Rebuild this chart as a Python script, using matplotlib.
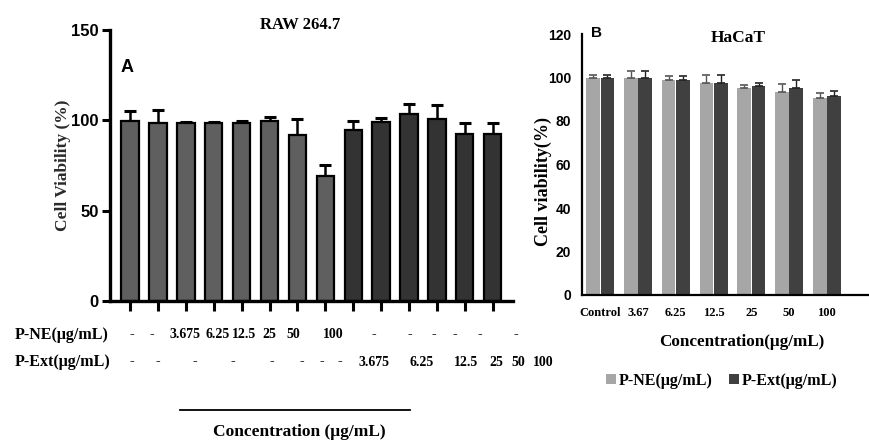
import numpy as np
import matplotlib
matplotlib.use('Agg')
import matplotlib.pyplot as plt
from matplotlib.lines import Line2D

# Panel A: RAW 264.7
raw_mean = [99.5, 98.3, 98.5, 98.5, 98.8, 99.4, 92.0, 69.0, 94.6, 98.9, 103.5, 100.7, 92.5, 92.5]
raw_err = [5.5, 7.5, 0.8, 0.8, 1.0, 2.6, 8.5, 6.3, 5.2, 2.5, 5.5, 8.0, 6.3, 6.3]
raw_group = ['ne'] * 8 + ['ext'] * 6
pne_labels = ['-', '-', '3.675', '6.25', '12.5', '25', '50', '100', '-', '-', '-', '-', '-', '-']
pext_labels = ['-', '-', '-', '-', '-', '-', '-', '-', '3.675', '6.25', '12.5', '25', '50', '100']

# Panel B: HaCaT
hacat_cats = ['Control', '3.67', '6.25', '12.5', '25', '50', '100']
hacat_ne = [100.0, 100.0, 99.0, 97.3, 95.3, 93.2, 90.7]
hacat_ne_err = [1.3, 3.0, 1.5, 3.8, 1.3, 3.8, 2.4]
hacat_ext = [100.0, 100.0, 99.0, 97.3, 96.1, 95.3, 91.6]
hacat_ext_err = [1.2, 3.0, 1.5, 3.8, 1.3, 3.6, 2.3]

W, H = 870, 441
SERIF = ['Liberation Serif', 'DejaVu Serif']
NARROW = ['Liberation Sans Narrow', 'Liberation Sans', 'DejaVu Sans']
SANS = ['Liberation Sans', 'DejaVu Sans']


def rect(x0, y0, x1, y1):
    # pixel box (top-left origin) -> figure fraction
    return [x0 / W, 1 - y1 / H, (x1 - x0) / W, (y1 - y0) / H]


def ftext(x, y, s, **kw):
    fig.text(x / W, 1 - y / H, s, **kw)


fig = plt.figure(figsize=(W / 100, H / 100), dpi=100)

# ---------------- Panel A ----------------
axA = fig.add_axes(rect(110, 30, 513, 301))
xa = np.arange(len(raw_mean))
colsA = ['#5f5f5f' if g == 'ne' else '#333333' for g in raw_group]
axA.bar(xa, raw_mean, width=0.62, color=colsA, edgecolor='black', linewidth=1.6, zorder=2)
axA.errorbar(xa, raw_mean, yerr=[np.zeros(len(raw_err)), raw_err], fmt='none',
             ecolor='black', elinewidth=1.8, capsize=4, capthick=2.2, zorder=1)
axA.set_ylim(0, 150)
axA.set_xlim(-0.72, 13.73)
axA.set_yticks([0, 50, 100, 150])
axA.set_xticks(xa)
axA.set_xticklabels([])
for s in ['top', 'right']:
    axA.spines[s].set_visible(False)
for s in ['left', 'bottom']:
    axA.spines[s].set_linewidth(2.4)
axA.tick_params(axis='both', direction='out', width=2.2, length=6, pad=2)
axA.tick_params(axis='x', length=7)
for lab in axA.get_yticklabels():
    lab.set_family(NARROW)
    lab.set_fontweight('bold')
    lab.set_fontsize(12)

ftext(300, 25, 'RAW 264.7', family=SERIF, fontweight='bold', fontsize=12, ha='center', va='center')
ftext(127, 68, 'A', family=SANS, fontweight='bold', fontsize=13, ha='center', va='center')
ftext(63, 165, 'Cell Viability (%)', family=SERIF, fontweight='bold', fontsize=12.5,
      rotation=90, ha='center', va='center', color='#2a2a2a')

ftext(15, 335, 'P-NE(\u03bcg/mL)', family=SERIF, fontweight='bold', fontsize=11.5, ha='left', va='center')
ftext(15, 362, 'P-Ext(\u03bcg/mL)', family=SERIF, fontweight='bold', fontsize=11.5, ha='left', va='center')

pne_x = [132, 152, 185, 218, 244, 269, 293, 333, 374, 410, 434, 455, 480, 516]
pext_x = [132, 158, 195, 233, 272, 302, 322, 340, 374, 422, 466, 496, 518, 543]
for x, s in zip(pne_x, pne_labels):
    ftext(x, 335, s, family=SERIF, fontweight='bold', fontsize=10, ha='center', va='center')
for x, s in zip(pext_x, pext_labels):
    ftext(x, 362, s, family=SERIF, fontweight='bold', fontsize=10, ha='center', va='center')

fig.add_artist(Line2D([180 / W, 410 / W], [1 - 410 / H, 1 - 410 / H], color='black', linewidth=1.3))
ftext(299, 432, 'Concentration (\u03bcg/mL)', family=SERIF, fontweight='bold', fontsize=12.5,
      ha='center', va='center')

# ---------------- Panel B ----------------
axB = fig.add_axes(rect(582, 34, 870, 295))
xb = np.arange(len(hacat_cats))
bw = 0.36
b1 = axB.bar(xb - bw / 2 - 0.01, hacat_ne, width=bw, color='#a6a6a6', zorder=2,
             label='P-NE(\u03bcg/mL)')
b2 = axB.bar(xb + bw / 2 + 0.01, hacat_ext, width=bw, color='#404040', zorder=2,
             label='P-Ext(\u03bcg/mL)')
axB.errorbar(xb - bw / 2 - 0.01, hacat_ne, yerr=[np.zeros(7), hacat_ne_err], fmt='none',
             ecolor='#555555', elinewidth=1.0, capsize=3, capthick=1.2, zorder=3)
axB.errorbar(xb + bw / 2 + 0.01, hacat_ext, yerr=[np.zeros(7), hacat_ext_err], fmt='none',
             ecolor='#222222', elinewidth=1.0, capsize=3, capthick=1.2, zorder=3)
axB.set_ylim(0, 120)
axB.set_xlim(-0.48, 7.14)
axB.set_yticks(range(0, 121, 20))
axB.set_xticks(xb)
axB.set_xticklabels(hacat_cats)
for s in ['top', 'right']:
    axB.spines[s].set_visible(False)
for s in ['left', 'bottom']:
    axB.spines[s].set_linewidth(1.6)
axB.tick_params(axis='both', length=0)
axB.tick_params(axis='y', pad=8)
axB.tick_params(axis='x', pad=9)
for lab in axB.get_yticklabels():
    lab.set_family(SANS)
    lab.set_fontweight('bold')
    lab.set_fontsize(10)
for lab in axB.get_xticklabels():
    lab.set_family(SERIF)
    lab.set_fontweight('bold')
    lab.set_fontsize(9)

ftext(597, 33, 'B', family=SANS, fontweight='bold', fontsize=11, ha='center', va='center')
ftext(738, 38, 'HaCaT', family=SERIF, fontweight='bold', fontsize=12.5, ha='center', va='center')
ftext(543, 182, 'Cell viability(%)', family=SERIF, fontweight='bold', fontsize=13,
      rotation=90, ha='center', va='center')
ftext(742, 342, 'Concentration(\u03bcg/mL)', family=SERIF, fontweight='bold', fontsize=12.3,
      ha='center', va='center')

fig.legend(handles=[b1, b2], loc='center', bbox_to_anchor=(722 / W, 1 - 381 / H), ncol=2,
           frameon=False, handlelength=0.6, handleheight=0.6, handletextpad=0.2,
           columnspacing=1.0, prop={'family': SERIF, 'weight': 'bold', 'size': 11.5})

fig.savefig('out.png', dpi=100)
